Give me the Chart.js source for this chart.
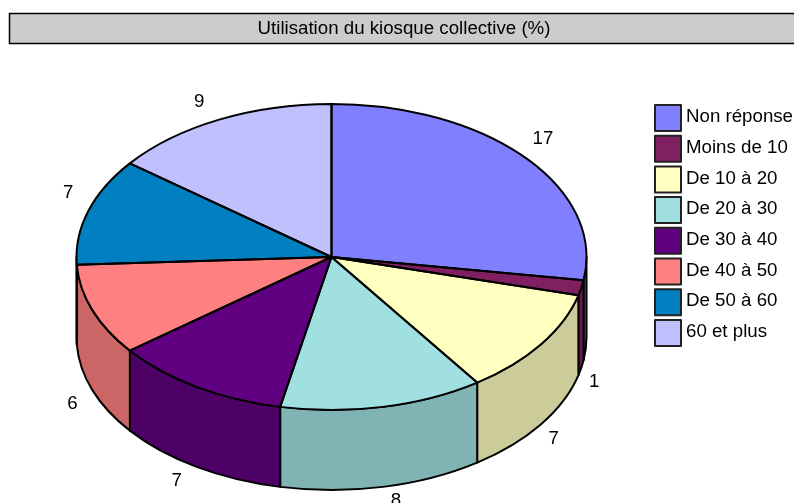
<!DOCTYPE html>
<html>
<head>
<meta charset="utf-8">
<style>html,body{margin:0;padding:0;background:#fff}#w{width:794px;height:503px;position:relative}</style>
<script src="https://cdn.jsdelivr.net/npm/chart.js@4"></script>
</head>
<body>
<div id="w"><canvas id="c" width="794" height="503"></canvas></div>
<script>
const titleText = 'Utilisation du kiosque collective (%)';
const categories = ['Non réponse','Moins de 10','De 10 à 20','De 20 à 30','De 30 à 40','De 40 à 50','De 50 à 60','60 et plus'];
const values = [17,1,7,8,7,6,7,9];
const topColors = ['#8080FF','#802060','#FFFFC0','#A0E0E0','#600080','#FF8080','#0080C0','#C0C0FF'];
const wallColors = ['#6666CC','#661A4D','#CCCC9A','#80B3B3','#4D0066','#CC6666','#00669A','#9A9ACC'];

const FONT = '18.7px "Liberation Sans", Arial, sans-serif';
const view = {cx:331.5, cy:257, rx:255, ry:153, depth:80};

function wedges(chart){ return chart.getDatasetMeta(0).data; }

const pie3d = {
  id:'pie3d',
  beforeDraw(chart){
    const c = chart.ctx;
    c.save();
    c.fillStyle='#CCCCCC'; c.fillRect(10,14,790,30);
    c.strokeStyle='#000'; c.lineWidth=1.5; c.strokeRect(9.5,13.5,800,30);
    c.restore();
  },
  beforeDatasetsDraw(chart){
    const c = chart.ctx, arcs = wedges(chart), {cx,cy,rx,ry,depth} = view;
    c.save();
    c.lineWidth = 2; c.strokeStyle = '#000'; c.lineJoin='round';
    arcs.forEach((a,i)=>{
      const s = Math.max(a.startAngle,0), e = Math.min(a.endAngle,Math.PI);
      if (e <= s) return;
      c.beginPath();
      c.ellipse(cx,cy,rx,ry,0,s,e,false);
      c.ellipse(cx,cy+depth,rx,ry,0,e,s,true);
      c.closePath();
      c.fillStyle = wallColors[i];
      c.fill(); c.stroke();
    });
    c.restore();
    const a0 = arcs[0];
    c.save();
    c.translate(cx,cy);
    c.scale(rx/a0.outerRadius, ry/a0.outerRadius);
    c.translate(-a0.x,-a0.y);
  },
  afterDatasetsDraw(chart){
    const c = chart.ctx, arcs = wedges(chart), {cx,cy,rx,ry,depth} = view;
    c.restore();
    c.save();
    c.lineWidth = 2; c.strokeStyle='#000'; c.lineJoin='round';
    arcs.forEach(a=>{
      c.beginPath();
      c.moveTo(cx,cy);
      c.ellipse(cx,cy,rx,ry,0,a.startAngle,a.endAngle,false);
      c.closePath();
      c.stroke();
    });
    // value labels
    c.fillStyle='#000'; c.font=FONT; c.textAlign='center'; c.textBaseline='middle';
    arcs.forEach((a,i)=>{
      const m = (a.startAngle+a.endAngle)/2, ux=Math.cos(m), uy=Math.sin(m);
      const px = cx+rx*ux, py = cy+ry*uy;
      const front = uy>0;
      const dx = front ? (ux>0 ? 13 : -20) : (ux>0 ? 18 : -20);
      const dy = front ? depth+14 : -18;
      c.fillText(String(values[i]), px+dx, py+dy);
    });
    // legend
    categories.forEach((t,i)=>{
      const y = 105+i*30.7;
      c.fillStyle=topColors[i]; c.fillRect(655,y,26,26);
      c.lineWidth=2; c.strokeStyle='#222'; c.strokeRect(655,y,26,26);
      c.fillStyle='#000'; c.textAlign='left';
      c.fillText(t,686,y+12);
    });
    c.restore();
  }
};

new Chart(document.getElementById('c'),{
  type:'pie',
  data:{labels:categories,datasets:[{data:values,backgroundColor:topColors,borderWidth:0,clip:false}]},
  options:{
    responsive:false,animation:false,
    layout:{padding:{left:14,top:0,right:0,bottom:0}},
    plugins:{
      legend:{display:false},
      tooltip:{enabled:false},
      title:{display:true,text:titleText,color:'#000',font:{family:'"Liberation Sans", Arial, sans-serif',size:18.7,weight:'normal'},padding:{top:18,bottom:10}}
    }
  },
  plugins:[pie3d]
});
</script>
</body>
</html>
